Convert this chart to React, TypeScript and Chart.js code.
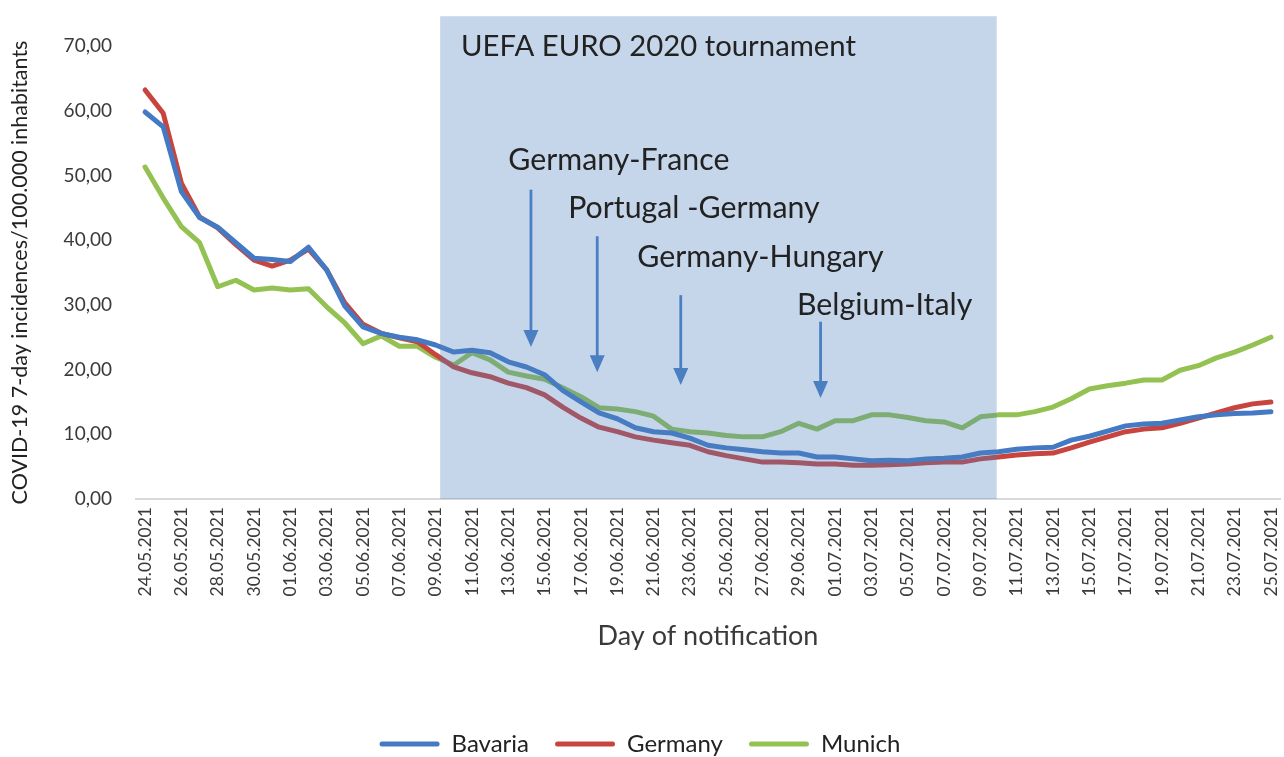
import { useEffect, useRef } from "react";
import { Chart, registerables } from "chart.js";

Chart.register(...registerables);

const dates: string[] = [
  "24.05.2021", "25.05.2021", "26.05.2021", "27.05.2021", "28.05.2021", "29.05.2021", "30.05.2021", "31.05.2021",
  "01.06.2021", "02.06.2021", "03.06.2021", "04.06.2021", "05.06.2021", "06.06.2021", "07.06.2021", "08.06.2021",
  "09.06.2021", "10.06.2021", "11.06.2021", "12.06.2021", "13.06.2021", "14.06.2021", "15.06.2021", "16.06.2021",
  "17.06.2021", "18.06.2021", "19.06.2021", "20.06.2021", "21.06.2021", "22.06.2021", "23.06.2021", "24.06.2021",
  "25.06.2021", "26.06.2021", "27.06.2021", "28.06.2021", "29.06.2021", "30.06.2021",
  "01.07.2021", "02.07.2021", "03.07.2021", "04.07.2021", "05.07.2021", "06.07.2021", "07.07.2021", "08.07.2021",
  "09.07.2021", "10.07.2021", "11.07.2021", "12.07.2021", "13.07.2021", "14.07.2021", "15.07.2021", "16.07.2021",
  "17.07.2021", "18.07.2021", "19.07.2021", "20.07.2021", "21.07.2021", "22.07.2021", "23.07.2021", "24.07.2021",
  "25.07.2021",
];

const bavaria: number[] = [
  59.8, 57.5, 47.5, 43.5, 42.0, 39.6, 37.2, 37.0, 36.7, 38.9, 35.4, 29.8, 26.6, 25.6, 25.0, 24.6,
  23.8, 22.7, 23.0, 22.6, 21.2, 20.4, 19.2, 16.8, 15.0, 13.3, 12.4, 11.0, 10.4, 10.2, 9.4, 8.3,
  7.9, 7.6, 7.3, 7.1, 7.1, 6.5, 6.5, 6.2, 5.9, 6.0, 5.9, 6.2, 6.3, 6.5, 7.1, 7.3,
  7.7, 7.9, 8.0, 9.1, 9.7, 10.5, 11.3, 11.6, 11.7, 12.2, 12.7, 13.0, 13.2, 13.3, 13.5,
];

const germany: number[] = [
  63.2, 59.6, 48.8, 43.6, 41.9, 39.3, 36.9, 36.0, 36.9, 38.6, 35.4, 30.3, 27.0, 25.6, 24.9, 24.3,
  22.3, 20.4, 19.5, 18.9, 17.9, 17.2, 16.1, 14.2, 12.5, 11.1, 10.4, 9.6, 9.1, 8.7, 8.3, 7.3,
  6.7, 6.2, 5.7, 5.7, 5.6, 5.4, 5.4, 5.2, 5.2, 5.3, 5.4, 5.6, 5.7, 5.7, 6.2, 6.5,
  6.8, 7.0, 7.1, 7.9, 8.8, 9.6, 10.4, 10.8, 11.0, 11.7, 12.5, 13.3, 14.1, 14.7, 15.0,
];

const munich: number[] = [
  51.3, 46.5, 42.1, 39.6, 32.8, 33.8, 32.3, 32.6, 32.3, 32.5, 29.7, 27.2, 24.0, 25.2, 23.6, 23.6,
  21.9, 20.7, 22.6, 21.5, 19.6, 19.0, 18.5, 17.2, 15.8, 14.1, 13.9, 13.5, 12.8, 10.8, 10.4, 10.2,
  9.8, 9.6, 9.6, 10.4, 11.7, 10.8, 12.1, 12.1, 13.0, 13.0, 12.6, 12.1, 11.9, 11.0, 12.7, 13.0,
  13.0, 13.5, 14.2, 15.5, 17.0, 17.5, 17.9, 18.4, 18.4, 19.9, 20.6, 21.8, 22.7, 23.8, 25.0,
];

const seriesNames: string[] = ["Bavaria", "Germany", "Munich"];
const yTickValues: number[] = [0, 10, 20, 30, 40, 50, 60, 70];

const tournamentTitle = "UEFA EURO 2020 tournament";
const matchNames: string[] = ["Germany-France", "Portugal -Germany", "Germany-Hungary", "Belgium-Italy"];

// annotation placement (fractional category index / value units)
const SHADE = { from: 16.25, to: 46.9, top: 74.6 };
const TITLE_POS = { x: 17.4, y: 69.9 };
const MATCH_TEXT_POS = [
  { x: 20.0, y: 52.4 },
  { x: 23.3, y: 45.0 },
  { x: 27.1, y: 37.4 },
  { x: 35.9, y: 30.0 },
];
const ARROWS = [
  { x: 21.25, from: 47.8, to: 23.5 },
  { x: 24.9, from: 40.6, to: 19.6 },
  { x: 29.5, from: 31.5, to: 17.6 },
  { x: 37.2, from: 27.4, to: 15.6 },
];

const FONT = "Lato";
const COLORS = ["#4479c4", "#c8453f", "#94c252"];
const TEXT_COLOR = "#222222";
const TICK_COLOR = "#3a3a3a";
const ARROW_COLOR = "#4a7fc1";

const overlayPlugin = {
  id: "euroOverlay",
  afterDatasetsDraw(chart: any) {
    const { ctx, scales } = chart;
    const x = scales.x;
    const y = scales.y;
    const x0 = x.getPixelForValue(0);
    const step = x.getPixelForValue(1) - x0;
    const px = (i: number) => x0 + i * step;
    const left = px(SHADE.from);
    const right = px(SHADE.to);
    const top = y.getPixelForValue(SHADE.top);
    const bottom = y.getPixelForValue(0);
    ctx.save();
    ctx.fillStyle = "rgba(79,129,189,0.32)";
    ctx.fillRect(left, top, right - left, bottom - top);
    ctx.restore();
  },
  afterDraw(chart: any) {
    const { ctx, scales } = chart;
    const x = scales.x;
    const y = scales.y;
    const x0 = x.getPixelForValue(0);
    const step = x.getPixelForValue(1) - x0;
    const px = (i: number) => x0 + i * step;
    ctx.save();
    ctx.fillStyle = TEXT_COLOR;
    ctx.textAlign = "left";
    ctx.textBaseline = "middle";
    ctx.font = `29.3px ${FONT}`;
    ctx.fillText(tournamentTitle, px(TITLE_POS.x), y.getPixelForValue(TITLE_POS.y));
    ctx.font = `30.3px ${FONT}`;
    matchNames.forEach((name, i) => {
      const p = MATCH_TEXT_POS[i];
      ctx.fillText(name, px(p.x), y.getPixelForValue(p.y));
    });
    ctx.strokeStyle = ARROW_COLOR;
    ctx.fillStyle = ARROW_COLOR;
    ctx.lineWidth = 2.8;
    ARROWS.forEach((a) => {
      const ax = px(a.x);
      const yTop = y.getPixelForValue(a.from);
      const yTip = y.getPixelForValue(a.to);
      const headH = 17;
      const headW = 7.5;
      ctx.beginPath();
      ctx.moveTo(ax, yTop);
      ctx.lineTo(ax, yTip - headH + 1);
      ctx.stroke();
      ctx.beginPath();
      ctx.moveTo(ax - headW, yTip - headH);
      ctx.lineTo(ax + headW, yTip - headH);
      ctx.lineTo(ax, yTip);
      ctx.closePath();
      ctx.fill();
    });
    ctx.restore();
  },
};

export default function App() {
  const canvasRef = useRef<HTMLCanvasElement | null>(null);

  useEffect(() => {
    document.body.style.margin = "0";
    const canvas = canvasRef.current;
    if (!canvas) return;
    const seriesData = [bavaria, germany, munich];
    const chart = new Chart(canvas, {
      type: "line",
      data: {
        labels: dates,
        datasets: seriesNames.map((name, i) => ({
          label: name,
          data: seriesData[i],
          borderColor: COLORS[i],
          backgroundColor: COLORS[i],
          borderWidth: 5,
          pointRadius: 0,
          tension: 0,
          fill: false,
          borderCapStyle: "round" as const,
          borderJoinStyle: "round" as const,
        })),
      },
      options: {
        responsive: false,
        animation: false,
        layout: { padding: { top: 46, left: 0, right: 4, bottom: -9 } },
        plugins: {
          tooltip: { enabled: false },
          legend: {
            position: "bottom",
            labels: {
              boxWidth: 60,
              boxHeight: 5,
              padding: 26,
              color: TEXT_COLOR,
              font: { family: FONT, size: 24 },
              useBorderRadius: true,
              borderRadius: 2.5,
              generateLabels: (chart: any) =>
                Chart.defaults.plugins.legend.labels.generateLabels(chart).map((it: any) => ({
                  ...it,
                  lineWidth: 0,
                })),
            },
          },
        },
        scales: {
          x: {
            type: "category",
            offset: true,
            grid: { display: false, drawTicks: false },
            border: { display: true, color: "#d9d9d9", width: 2 },
            ticks: {
              autoSkip: false,
              maxRotation: 90,
              minRotation: 90,
              padding: 8,
              color: TICK_COLOR,
              font: { family: FONT, size: 17.5 },
              callback: (_v: any, idx: number) => (idx % 2 === 0 ? dates[idx] : ""),
            },
            title: {
              display: true,
              text: "Day of notification",
              color: TICK_COLOR,
              font: { family: FONT, size: 27 },
              padding: { top: 0, bottom: 54 },
            },
            afterFit: (s: any) => {
              s.height = 207;
              s.paddingLeft = 0;
              s.paddingRight = 0;
            },
          },
          y: {
            min: 0,
            max: 70,
            grid: { display: false, drawTicks: false },
            border: { display: false },
            afterBuildTicks: (s: any) => {
              s.ticks = yTickValues.map((v) => ({ value: v }));
            },
            ticks: {
              padding: 24,
              color: TICK_COLOR,
              font: { family: FONT, size: 19 },
              callback: (v: any) => Number(v).toFixed(2).replace(".", ","),
            },
            title: {
              display: true,
              text: "COVID-19 7-day incidences/100.000 inhabitants",
              color: TEXT_COLOR,
              font: { family: FONT, size: 21.5 },
              padding: { top: 7, bottom: 0 },
            },
            afterFit: (s: any) => {
              s.width = 136;
            },
          },
        },
      },
      plugins: [overlayPlugin],
    });
    return () => chart.destroy();
  }, []);

  return (
    <div style={{ width: 1284, height: 757, background: "#ffffff" }}>
      <canvas ref={canvasRef} width={1284} height={757} style={{ display: "block" }} />
    </div>
  );
}
